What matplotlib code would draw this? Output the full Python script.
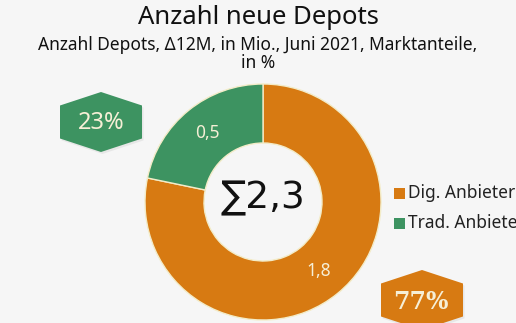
import matplotlib.pyplot as plt
from matplotlib.patches import Polygon

plt.rcParams['font.family'] = ['Noto Sans', 'DejaVu Sans']

# neue Depots in Mio., Juni 2021
anbieter = ['Dig. Anbieter', 'Trad. Anbieter']
depots = [1.8, 0.5]
marktanteil = [77, 23]
farben = ['#d77a12', '#3d9361']

W, H = 516, 323


def py(y):
    # pixel row -> data y
    return H - y


def hexagon(ax, cx, cy, w, h, side, color):
    cy = py(cy)
    pts = [(cx, cy + h / 2), (cx + w / 2, cy + side / 2), (cx + w / 2, cy - side / 2),
           (cx, cy - h / 2), (cx - w / 2, cy - side / 2), (cx - w / 2, cy + side / 2)]
    shadow = Polygon([(x + 1.5, y - 2) for x, y in pts], closed=True,
                     facecolor='#000000', alpha=0.06, edgecolor='none')
    ax.add_patch(shadow)
    ax.add_patch(Polygon(pts, closed=True, facecolor=color, edgecolor='none'))


fig = plt.figure(figsize=(W / 100, H / 100), dpi=100)
fig.patch.set_facecolor('#f6f6f6')
ax = fig.add_axes([0, 0, 1, 1])
ax.set_facecolor('#f6f6f6')

total = sum(depots)
wedges, texts = ax.pie(
    depots, colors=farben, startangle=90, counterclock=False,
    center=(263, py(202)), radius=118,
    labels=[f'{v:.1f}'.replace('.', ',') for v in depots], labeldistance=0.75,
    wedgeprops=dict(width=59, edgecolor='#f3ecc8', linewidth=1.0),
    textprops=dict(color='#f6efd6', fontsize=12.5, ha='center', va='center'))
for t in texts:
    t.set_fontfamily(['Noto Sans', 'DejaVu Sans'])

ax.text(263, py(198), '∑' + f'{total:.1f}'.replace('.', ','), ha='center', va='center',
        fontsize=27, color='#111111', family=['DejaVu Sans'])

ax.set_xlim(0, W)
ax.set_ylim(0, H)
ax.set_aspect('equal')
ax.axis('off')

# Marktanteile als Sechsecke
hexagon(ax, 101, 122, 82, 60, 33, farben[1])
ax.text(101, py(123), f'{marktanteil[1]}%', ha='center', va='center', fontsize=17,
        color='#f6efd6')
hexagon(ax, 422, 300, 82, 60, 33, farben[0])
ax.text(421, py(302), f'{marktanteil[0]}%', ha='center', va='center', fontsize=17,
        color='#f6efd6', family=['DejaVu Serif'], fontweight='bold')

# Legende, rechts angeschnitten
for i, (name, col) in enumerate(zip(anbieter, farben)):
    y = 193 + i * 30
    ax.add_patch(plt.Rectangle((394, py(y) - 5.5), 11, 11, facecolor=col, edgecolor='none'))
    ax.text(408, py(y), name, ha='left', va='center', fontsize=12.5, color='#222222')

fig.text(0.5, py(18) / H, 'Anzahl neue Depots', ha='center', va='center',
         fontsize=18.5, color='#111111')
fig.text(0.5, py(45) / H, 'Anzahl Depots, Δ12M, in Mio., Juni 2021, Marktanteile,',
         ha='center', va='center', fontsize=12.5, color='#111111')
fig.text(0.5, py(63) / H, 'in %', ha='center', va='center', fontsize=12.5, color='#111111')

fig.savefig('out.png', dpi=100, facecolor=fig.get_facecolor())
